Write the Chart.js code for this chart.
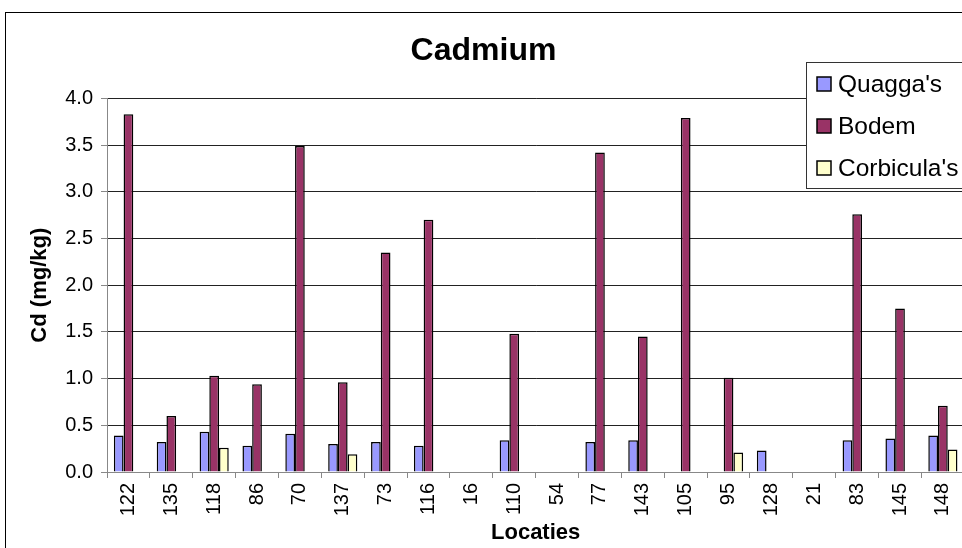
<!DOCTYPE html>
<html>
<head>
<meta charset="utf-8">
<script src="https://cdn.jsdelivr.net/npm/chart.js@4"></script>
<style>
  html, body { margin: 0; padding: 0; background: #fff; overflow: hidden; width: 962px; height: 548px; }
  canvas { display: block; }
</style>
</head>
<body>
<canvas id="cdChart" width="972" height="548"></canvas>
<script>
// Cadmium per locatie
var locaties = ["122", "135", "118", "86", "70", "137", "73", "116", "16", "110", "54", "77", "143", "105", "95", "128", "21", "83", "145", "148"];
var quaggaValues = [0.39, 0.32, 0.43, 0.28, 0.41, 0.30, 0.32, 0.28, null, 0.34, null, 0.32, 0.34, null, null, 0.23, null, 0.34, 0.36, 0.39];
var bodemValues = [3.83, 0.60, 1.03, 0.94, 3.49, 0.96, 2.35, 2.70, null, 1.48, null, 3.42, 1.45, 3.79, 1.01, null, null, 2.76, 1.75, 0.71];
var corbiculaValues = [null, null, 0.26, null, null, 0.19, null, null, null, null, null, null, null, null, 0.21, null, null, null, null, 0.24];
var yTicks = [0, 0.5, 1, 1.5, 2, 2.5, 3, 3.5, 4];

var fontFam = "'Liberation Sans', Arial, sans-serif";

// frame round the whole chart + legend box drawn over the plot
var framePlugin = {
    id: "frameAndLegend",
    afterDraw: function(chart) {
        var ctx = chart.ctx;
        ctx.save();
        ctx.strokeStyle = "#000";
        ctx.lineWidth = 1;
        ctx.strokeRect(5.5, 12.5, 1100, 700);

        var lx = 806, ly = 62, lw = 200, lh = 126;
        ctx.fillStyle = "#fff";
        ctx.fillRect(lx, ly, lw, lh);
        ctx.strokeStyle = "#333";
        ctx.strokeRect(lx + 0.5, ly + 0.5, lw, lh);

        ctx.font = "24.5px " + fontFam;
        ctx.textBaseline = "middle";
        chart.data.datasets.forEach(function(ds, i) {
            var cy = 84 + i * 42;
            ctx.fillStyle = ds.backgroundColor;
            ctx.fillRect(817, cy - 7, 14, 14);
            ctx.strokeStyle = "#000";
            ctx.lineWidth = 1.5;
            ctx.strokeRect(817, cy - 7, 14, 14);
            ctx.fillStyle = "#000";
            ctx.fillText(ds.label, 838, cy + 1);
        });
        ctx.restore();
    }
};

new Chart("cdChart", {
    type: "bar",
    data: {
        labels: locaties,
        datasets: [{
            label: "Quagga's",
            data: quaggaValues,
            backgroundColor: "#9999FF",
            borderColor: "#000",
            borderWidth: 1.5
        }, {
            label: "Bodem",
            data: bodemValues,
            backgroundColor: "#993366",
            borderColor: "#000",
            borderWidth: 1.5
        }, {
            label: "Corbicula's",
            data: corbiculaValues,
            backgroundColor: "#FFFFCC",
            borderColor: "#000",
            borderWidth: 1.5
        }]
    },
    options: {
        responsive: false,
        animation: false,
        layout: { padding: { left: 0, right: 5, top: 0, bottom: 0 } },
        datasets: { bar: { categoryPercentage: 0.68, barPercentage: 1.0, skipNull: false } },
        plugins: {
            legend: { display: false },
            tooltip: { enabled: false },
            title: {
                display: true,
                text: "Cadmium",
                color: "#000",
                font: { family: fontFam, size: 32, weight: "bold" },
                padding: { top: 32, bottom: 28 }
            }
        },
        scales: {
            x: {
                afterFit: function(scale) { scale.height = 76; },
                grid: { display: true, drawOnChartArea: false, offset: true, tickLength: 6, tickColor: "#888" },
                border: { color: "#888" },
                ticks: {
                    color: "#000",
                    font: { family: fontFam, size: 20 },
                    minRotation: 90,
                    maxRotation: 90,
                    autoSkip: false,
                    padding: 5
                },
                title: {
                    display: true,
                    text: "Locaties",
                    color: "#000",
                    font: { family: fontFam, size: 22, weight: "bold" },
                    padding: { top: 0, bottom: 2 }
                }
            },
            y: {
                min: 0,
                max: 4,
                afterFit: function(scale) { scale.width = 107; },
                afterBuildTicks: function(scale) {
                    scale.ticks = yTicks.map(function(v) { return { value: v }; });
                },
                grid: { color: "#222", tickColor: "#888", tickLength: 6 },
                border: { color: "#888" },
                ticks: {
                    color: "#000",
                    font: { family: fontFam, size: 20 },
                    padding: 8,
                    callback: function(v) { return Number(v).toFixed(1); }
                },
                title: {
                    display: true,
                    text: "Cd (mg/kg)",
                    color: "#000",
                    font: { family: fontFam, size: 22, weight: "bold" },
                    padding: { top: 27, bottom: 0 }
                }
            }
        }
    },
    plugins: [framePlugin]
});
</script>
</body>
</html>
